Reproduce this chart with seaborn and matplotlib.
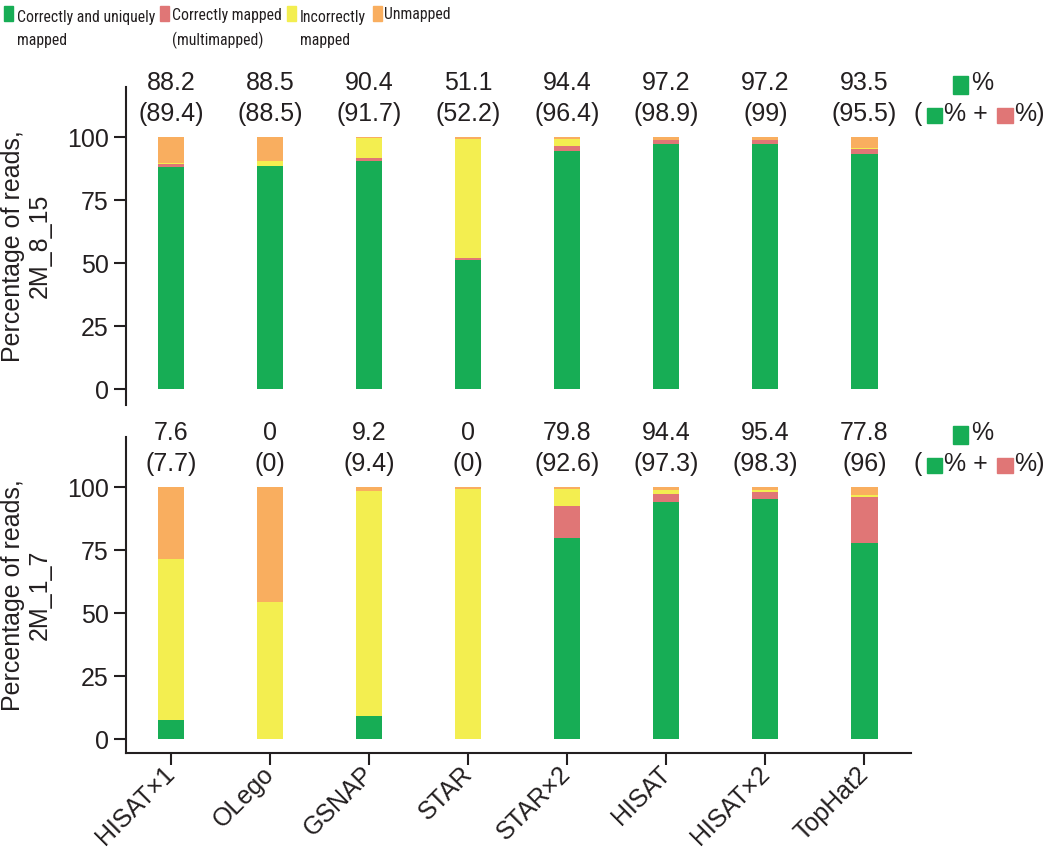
import matplotlib
matplotlib.use("Agg")
import matplotlib.pyplot as plt
from matplotlib import font_manager
from matplotlib.patches import Rectangle
import pandas as pd
import seaborn as sns

# aligners on the x axis
tools = ["HISAT×1", "OLego", "GSNAP", "STAR", "STAR×2", "HISAT", "HISAT×2", "TopHat2"]

# 2M_8_15 (top panel), percentages per category
uniq_8 = [88.2, 88.5, 90.4, 51.1, 94.4, 97.2, 97.2, 93.5]
multi_8 = [1.2, 0.0, 1.3, 1.1, 2.0, 1.7, 1.8, 2.0]
incorrect_8 = [0.5, 2.2, 7.9, 47.3, 3.1, 0.0, 0.0, 0.2]
unmapped_8 = [10.1, 9.3, 0.4, 0.5, 0.5, 1.1, 1.0, 4.3]
total_8 = [89.4, 88.5, 91.7, 52.2, 96.4, 98.9, 99, 95.5]

# 2M_1_7 (bottom panel)
uniq_1 = [7.6, 0.0, 9.2, 0.0, 79.8, 94.4, 95.4, 77.8]
multi_1 = [0.1, 0.0, 0.2, 0.0, 12.8, 2.9, 2.9, 18.2]
incorrect_1 = [64.0, 54.5, 89.3, 99.5, 6.7, 1.5, 0.6, 0.8]
unmapped_1 = [28.3, 45.5, 1.3, 0.5, 0.7, 1.2, 1.1, 3.2]
total_1 = [7.7, 0, 9.4, 0, 92.6, 97.3, 98.3, 96]

layers = ["uniq", "multi", "incorrect", "unmapped"]
layer_names = ["Correctly and uniquely\nmapped", "Correctly mapped\n(multimapped)",
               "Incorrectly\nmapped", "Unmapped"]
colors = {"uniq": "#17ad55", "multi": "#e07676", "incorrect": "#f3ee50", "unmapped": "#f9ae5f"}
ink = "#231f20"

sns.set_theme(style="ticks")
plt.rcParams['font.family'] = ['Liberation Sans', 'DejaVu Sans']

# the legend uses a narrow face; take one if it is installed
installed = {f.name for f in font_manager.fontManager.ttflist}
legend_font = "Liberation Sans"
for name in ["Liberation Sans Narrow", "Roboto Condensed", "DejaVu Sans Condensed",
             "Open Sans Condensed"]:
    if name in installed:
        legend_font = name
        break

fig = plt.figure(figsize=(10.5, 8.6), dpi=100)
ax1 = fig.add_axes([0.12, 0.529, 0.7476, 0.370])
ax2 = fig.add_axes([0.12, 0.1244, 0.7476, 0.3674])


def draw_panel(ax, uniq, multi, incorrect, unmapped, total, ylabel, ylo):
    df = pd.DataFrame({"tool": tools, "uniq": uniq, "multi": multi,
                       "incorrect": incorrect, "unmapped": unmapped})
    cum = df[layers].cumsum(axis=1)
    # stacked bars: draw tallest layer first
    for layer in reversed(layers):
        sns.barplot(x=df["tool"], y=cum[layer], order=tools, color=colors[layer],
                    width=0.265, saturation=1, linewidth=0, ax=ax)

    for i, (u, t) in enumerate(zip(uniq, total)):
        ax.text(i, 121.5, f"{u:g}", ha="center", va="center", fontsize=18,
                color=ink, clip_on=False)
        ax.text(i, 109.4, f"({t:g})", ha="center", va="center", fontsize=18,
                color=ink, clip_on=False)

    # little key on the right
    ax.add_patch(Rectangle((7.89, 117.2), 0.16, 7.1, color=colors["uniq"], clip_on=False))
    ax.text(8.08, 121.5, "%", ha="left", va="center", fontsize=18, color=ink, clip_on=False)
    ax.text(7.495, 109.4, "(", ha="left", va="center", fontsize=18, color=ink, clip_on=False)
    ax.add_patch(Rectangle((7.636, 105.7), 0.152, 5.9, color=colors["uniq"], clip_on=False))
    ax.text(7.808, 109.4, "% +", ha="left", va="center", fontsize=18, color=ink, clip_on=False)
    ax.add_patch(Rectangle((8.343, 105.7), 0.152, 5.9, color=colors["multi"], clip_on=False))
    ax.text(8.515, 109.4, "%)", ha="left", va="center", fontsize=18, color=ink, clip_on=False)

    ax.set_xlim(-0.455, 7.47)
    ax.set_ylim(ylo, 120)
    ax.set_yticks([0, 25, 50, 75, 100])
    ax.set_ylabel(ylabel, fontsize=18, color=ink, linespacing=1.15)
    ax.yaxis.set_label_coords(-0.094, 0.5)
    ax.set_xlabel("")
    for s in ["top", "right"]:
        ax.spines[s].set_visible(False)
    for s in ["left", "bottom"]:
        ax.spines[s].set_color(ink)
        ax.spines[s].set_linewidth(1.5)
    ax.tick_params(axis="both", length=8.5, width=1.5, color=ink,
                   labelsize=18, labelcolor=ink, pad=4)


draw_panel(ax1, uniq_8, multi_8, incorrect_8, unmapped_8, total_8,
           "Percentage of reads,\n2M_8_15", -6.3)
draw_panel(ax2, uniq_1, multi_1, incorrect_1, unmapped_1, total_1,
           "Percentage of reads,\n2M_1_7", -5.5)

ax1.spines["bottom"].set_visible(False)
ax1.tick_params(axis="x", bottom=False, labelbottom=False)

ax2.set_xticks(range(len(tools)))
ax2.set_xticklabels(tools, rotation=45, ha="right", va="center",
                    rotation_mode="anchor", fontsize=18, color=ink)

# legend along the top edge, built by hand
W, H = 1050, 860
renderer = fig.canvas.get_renderer()
probe = fig.text(0, 0, "Correctly and uniquely", fontsize=12, family=legend_font)
probe_w = probe.get_window_extent(renderer).width
probe.remove()
legend_size = min(15.0, 12 * 138 / probe_w)
line_px = 26  # distance between the two lines of a label
spacing = line_px / (legend_size * 100 / 72)

key_x = [4, 160, 287, 373]
text_x = [17, 172, 300, 384]
for layer, name, kx, tx in zip(layers, layer_names, key_x, text_x):
    fig.add_artist(Rectangle((kx / W, 1 - 21 / H), 9 / W, 15 / H,
                             transform=fig.transFigure, color=colors[layer]))
    # multi-line text with va="baseline" sits on the baseline of its last line
    n_lines = name.count("\n") + 1
    base = 19 + line_px * (n_lines - 1)
    fig.text(tx / W, 1 - base / H, name, ha="left", va="baseline", fontsize=legend_size,
             linespacing=spacing, color=ink, family=legend_font)

fig.savefig("out.png", dpi=100)
